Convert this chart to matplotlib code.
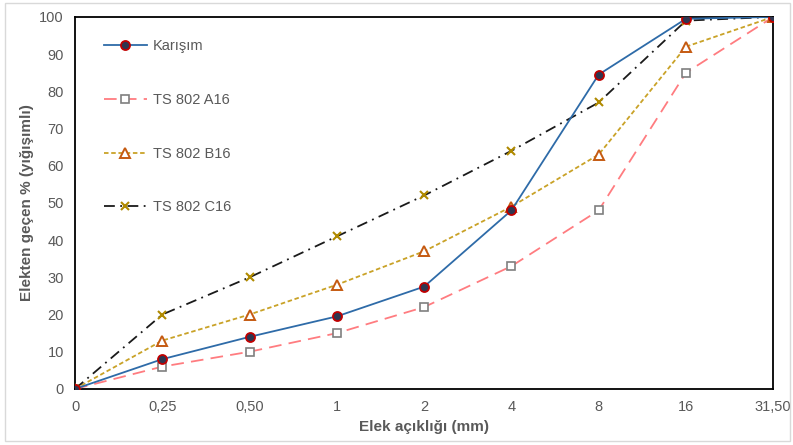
import matplotlib
matplotlib.use("Agg")
import matplotlib.pyplot as plt
from matplotlib.patches import Rectangle

plt.rcParams['font.family'] = ['Liberation Sans', 'DejaVu Sans']

sizes = ["0", "0,25", "0,50", "1", "2", "4", "8", "16", "31,50"]
karisim = [0, 8, 14, 19.5, 27.5, 48, 84.5, 99.5, 100]
a16 = [0, 6, 10, 15, 22, 33, 48, 85, 100]
b16 = [0, 13, 20, 28, 37, 49, 63, 92, 100]
c16 = [0, 20, 30, 41, 52, 64, 77, 99, 100]

fig = plt.figure(figsize=(7.93, 4.45), dpi=100)
ax = fig.add_axes([0.0946, 0.126, 0.8805, 0.836])
x = list(range(len(sizes)))

ax.plot(x, karisim, color='#2E6BA8', lw=1.3, marker='o', ms=6.5,
        mfc='#2F3650', mec='#C00000', mew=1.3, label='Karışım', zorder=5)
ax.plot(x, a16, color='#FF7C80', lw=1.3, ls=(0, (7, 4)), marker='s', ms=6,
        mfc='white', mec='#7F7F7F', mew=1.2, label='TS 802 A16', zorder=4)
ax.plot(x, b16, color='#C9A227', lw=1.3, ls=(0, (2.5, 1.5)), marker='^', ms=6.5,
        mfc='white', mec='#C55A11', mew=1.4, label='TS 802 B16', zorder=4)
ax.plot(x, c16, color='#1A1A1A', lw=1.3, ls=(0, (6, 3, 1, 3)), marker='x', ms=6,
        mec='#B08A00', mew=1.5, label='TS 802 C16', zorder=4)

ax.set_xlim(0, 8)
ax.set_ylim(0, 100)
ax.set_xticks(x)
ax.set_xticklabels(sizes)
ax.set_yticks(range(0, 101, 10))
ax.tick_params(length=0, labelsize=10.5, colors='#595959', pad=8)
for s in ax.spines.values():
    s.set_color('black')
    s.set_linewidth(1.3)

ax.set_xlabel('Elek açıklığı (mm)', fontsize=11, fontweight='bold', color='#595959', labelpad=4)
ax.set_ylabel('Elekten geçen % (yığışımlı)', fontsize=11, fontweight='bold', color='#595959', labelpad=4)

leg = ax.legend(loc='upper left', bbox_to_anchor=(0.022, 0.975), frameon=False,
                fontsize=10.5, labelspacing=2.72, handlelength=3.0, handletextpad=0.4)
for t in leg.get_texts():
    t.set_color('#595959')

fig.patches.append(Rectangle((0.006, 0.008), 0.99, 0.985, transform=fig.transFigure,
                             fill=False, edgecolor='#D9D9D9', lw=1.0))

fig.savefig('out.png', dpi=100)
